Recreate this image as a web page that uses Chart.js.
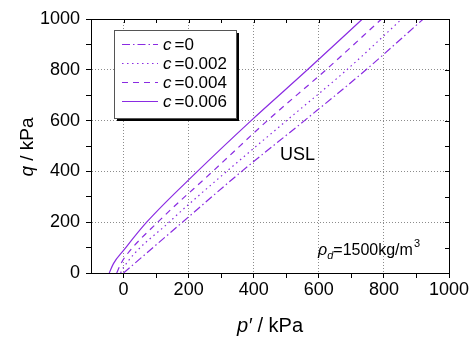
<!DOCTYPE html>
<html>
<head>
<meta charset="utf-8">
<script src="https://cdn.jsdelivr.net/npm/chart.js@4.4.1/dist/chart.umd.min.js"></script>
<style>
  html, body { margin: 0; padding: 0; background: #fff; }
  #wrap { width: 473px; height: 341px; }
</style>
</head>
<body>
<div id="wrap"><canvas id="chart" width="473" height="341"></canvas></div>
<script>
/* ===== DATA ===== */
const cValues = ["0", "0.002", "0.004", "0.006"];

const pC0 = [0, 181, 363, 556, 745, 921];
const qC0 = [0, 200, 400, 600, 800, 1000];

const pC2 = [-9, 0, 140, 317, 501, 686, 855];
const qC2 = [0, 22, 200, 400, 600, 800, 1000];

const pC4 = [-21, -8, 5, 105, 274, 442, 622, 793];
const qC4 = [0, 37, 64, 200, 400, 600, 800, 1000];

const pC6 = [-44, -31, 0, 71, 227, 392, 565, 734];
const qC6 = [0, 37, 89, 200, 400, 600, 800, 1000];

const xTicks = [-100, 0, 100, 200, 300, 400, 500, 600, 700, 800, 900, 1000];
const yTicks = [0, 100, 200, 300, 400, 500, 600, 700, 800, 900, 1000];

/* ===== STYLE ===== */
const PURPLE = "#8a2be2";
const FONT = "'Liberation Sans', Arial, sans-serif";
const dashes = [[8, 3, 1.5, 3], [1.5, 3.5], [6, 5], []];

const pts = (ps, qs) => ps.map((p, i) => ({x: p, y: qs[i]}));
const series = [pts(pC0, qC0), pts(pC2, qC2), pts(pC4, qC4), pts(pC6, qC6)];

const datasets = series.map((d, i) => ({
  label: "c =" + cValues[i],
  data: d,
  showLine: true,
  borderColor: PURPLE,
  borderWidth: 1.2,
  borderDash: dashes[i],
  pointRadius: 0,
  cubicInterpolationMode: "monotone",
  fill: false
}));

/* ===== DECORATIONS: frame, inner ticks, titles, legend, notes ===== */
const decor = {
  id: "decor",
  afterDraw(chart) {
    const ctx = chart.ctx;
    const a = chart.chartArea;
    const xs = chart.scales.x, ys = chart.scales.y;
    ctx.save();

    // top & right frame
    ctx.strokeStyle = "#000";
    ctx.lineWidth = 1;
    ctx.beginPath();
    ctx.moveTo(a.left, a.top + 0.5); ctx.lineTo(a.right + 0.5, a.top + 0.5);
    ctx.lineTo(a.right + 0.5, a.bottom);
    ctx.stroke();

    // inward ticks on top and right
    ctx.beginPath();
    xTicks.forEach(v => {
      if (v <= -100) return;
      const x = Math.round(xs.getPixelForValue(v)) + 0.5;
      ctx.moveTo(x, a.top); ctx.lineTo(x, a.top + 4);
    });
    yTicks.forEach(v => {
      const y = Math.round(ys.getPixelForValue(v)) + 0.5;
      ctx.moveTo(a.right, y); ctx.lineTo(a.right - 4, y);
    });
    ctx.stroke();

    // legend box
    const lx = 114, ly = 30, lw = 122, lh = 88;
    ctx.fillStyle = "#000";
    ctx.fillRect(lx + 3, ly + 3, lw, lh);
    ctx.fillStyle = "#fff";
    ctx.fillRect(lx, ly, lw, lh);
    ctx.strokeStyle = "#555";
    ctx.strokeRect(lx + 0.5, ly + 0.5, lw, lh);

    const rows = [44, 63, 82, 101];
    datasets.forEach((ds, i) => {
      const y = rows[i] + 0.5;
      ctx.strokeStyle = PURPLE;
      ctx.lineWidth = 1.2;
      ctx.setLineDash(ds.borderDash);
      ctx.beginPath(); ctx.moveTo(122, y); ctx.lineTo(158, y); ctx.stroke();
      ctx.setLineDash([]);
      ctx.fillStyle = "#000";
      ctx.textBaseline = "middle";
      ctx.textAlign = "left";
      ctx.font = "italic 17px " + FONT;
      ctx.fillText("c", 163, rows[i] + 1);
      const cw = ctx.measureText("c").width;
      ctx.font = "17px " + FONT;
      ctx.fillText("=" + cValues[i], 163 + cw + 3, rows[i] + 1);
    });

    // USL label
    ctx.fillStyle = "#000";
    ctx.font = "18px " + FONT;
    ctx.textAlign = "left";
    ctx.textBaseline = "alphabetic";
    ctx.fillText("USL", 280, 160);

    // rho_d label
    let x = 318;
    const by = 255;
    ctx.font = "italic 16px " + FONT;
    ctx.fillText("\u03c1", x, by);
    x += ctx.measureText("\u03c1").width;
    ctx.font = "italic 11px " + FONT;
    ctx.fillText("d", x, by + 4);
    x += ctx.measureText("d").width;
    ctx.font = "16px " + FONT;
    ctx.fillText("=1500kg/m", x, by);
    x += ctx.measureText("=1500kg/m").width;
    ctx.font = "11px " + FONT;
    ctx.fillText("3", x + 1, by - 8);

    // x axis title
    ctx.font = "italic 20px " + FONT;
    const t1 = "p\u2032", t2 = " / kPa";
    const w1 = ctx.measureText(t1).width;
    ctx.font = "20px " + FONT;
    const w2 = ctx.measureText(t2).width;
    let tx = (a.left + a.right) / 2 - (w1 + w2) / 2;
    ctx.font = "italic 20px " + FONT;
    ctx.fillText(t1, tx, 332);
    ctx.font = "20px " + FONT;
    ctx.fillText(t2, tx + w1, 332);

    // y axis title
    ctx.translate(33, 147);
    ctx.rotate(-Math.PI / 2);
    ctx.font = "italic 19px " + FONT;
    const u1 = "q", u2 = " / kPa";
    const v1 = ctx.measureText(u1).width;
    ctx.font = "19px " + FONT;
    const v2 = ctx.measureText(u2).width;
    const sx = -(v1 + v2) / 2;
    ctx.font = "italic 19px " + FONT;
    ctx.fillText(u1, sx, 0);
    ctx.font = "19px " + FONT;
    ctx.fillText(u2, sx + v1, 0);

    ctx.restore();
  }
};

/* ===== CHART ===== */
new Chart(document.getElementById("chart"), {
  type: "scatter",
  data: { datasets },
  options: {
    responsive: false,
    animation: false,
    devicePixelRatio: 1,
    layout: { padding: { top: 19, right: 24, left: 0, bottom: 0 } },
    plugins: { legend: { display: false }, tooltip: { enabled: false } },
    scales: {
      x: {
        type: "linear",
        min: -100, max: 1000,
        afterBuildTicks: s => { s.ticks = xTicks.map(v => ({value: v})); },
        afterFit: s => { s.height = 68; },
        ticks: {
          autoSkip: false, maxRotation: 0, padding: 1,
          color: "#000",
          font: { family: FONT, size: 18 },
          callback: v => (v >= 0 && v % 200 === 0) ? String(v) : ""
        },
        grid: {
          color: c => (c.tick && c.tick.value > 0 && c.tick.value < 1000 && c.tick.value % 200 === 0) || (c.tick && c.tick.value === 0) ? "#8c8c8c" : "rgba(0,0,0,0)",
          tickColor: c => (c.tick && c.tick.value === -100) ? "rgba(0,0,0,0)" : "#000",
          tickLength: 5,
          lineWidth: 1
        },
        border: { display: true, color: "#000", width: 1, dash: [1, 2] }
      },
      y: {
        type: "linear",
        min: 0, max: 1000,
        afterBuildTicks: s => { s.ticks = yTicks.map(v => ({value: v})); },
        afterFit: s => { s.width = 91; },
        ticks: {
          autoSkip: false, padding: 6,
          color: "#000",
          font: { family: FONT, size: 18 },
          callback: v => (v % 200 === 0) ? String(v) : ""
        },
        grid: {
          color: c => (c.tick && c.tick.value > 0 && c.tick.value < 1000 && c.tick.value % 200 === 0) ? "#8c8c8c" : "rgba(0,0,0,0)",
          tickColor: "#000",
          tickLength: 5,
          lineWidth: 1
        },
        border: { display: true, color: "#000", width: 1, dash: [1, 2] }
      }
    }
  },
  plugins: [decor]
});
</script>
</body>
</html>
